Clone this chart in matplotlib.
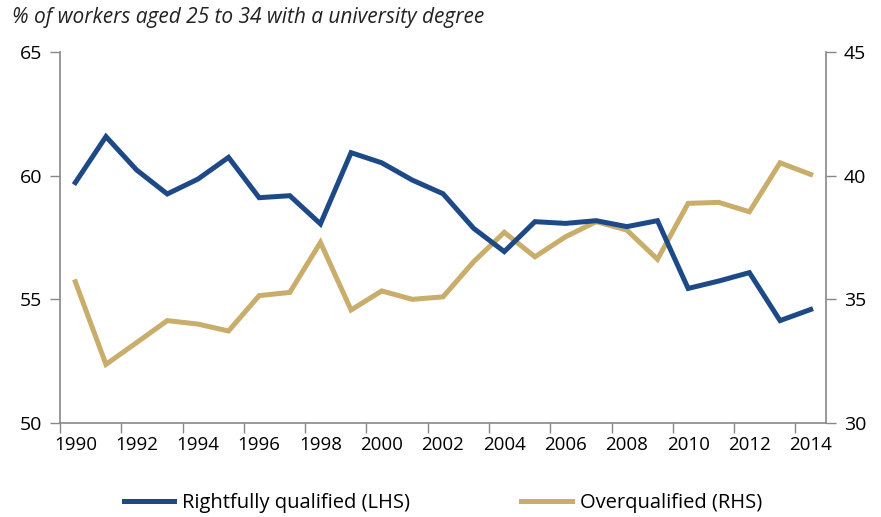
import matplotlib
matplotlib.use("Agg")
import matplotlib.pyplot as plt
import numpy as np

years = list(range(1990, 2015))
rightfully = [59.72, 61.58, 60.23, 59.26, 59.86, 60.74, 59.11, 59.19, 58.05, 60.93,
              60.52, 59.82, 59.27, 57.87, 56.93, 58.14, 58.07, 58.18, 57.94, 58.18,
              55.44, 55.74, 56.08, 54.14, 54.59]
overqualified = [35.71, 32.37, 33.25, 34.14, 34.00, 33.72, 35.15, 35.28, 37.30, 34.57,
                 35.34, 35.00, 35.10, 36.52, 37.71, 36.72, 37.53, 38.14, 37.80, 36.62,
                 38.88, 38.92, 38.54, 40.52, 40.05]
left_ticks = [50, 55, 60, 65]
right_ticks = [30, 35, 40, 45]
title = "% of workers aged 25 to 34 with a university degree"

BLUE = "#1D4A87"
GOLD = "#C8AD6B"
GREY = "#888888"
plt.rcParams['font.family'] = ['Open Sans', 'DejaVu Sans']

fig = plt.figure(figsize=(8.81, 5.17), dpi=100)
ax = fig.add_axes([60/881, 1-423/517, (826-60)/881, (423-52)/517])
ax2 = ax.twinx()

x = np.arange(len(years))
l1, = ax.plot(x, rightfully, color=BLUE, lw=3.6, solid_joinstyle='miter', label="Rightfully qualified (LHS)")
l2, = ax2.plot(x, overqualified, color=GOLD, lw=3.6, solid_joinstyle='miter', label="Overqualified (RHS)")
ax.set_zorder(ax2.get_zorder() + 1)
ax.patch.set_visible(False)

ax.set_xlim(-0.5, len(years) - 0.5)
ax.set_ylim(50, 65)
ax2.set_ylim(30, 45)
ax.set_yticks(left_ticks)
ax2.set_yticks(right_ticks)

ax.set_xticks(np.arange(-0.5, len(years), 2))
ax.set_xticklabels([])
ax.set_xticks(x[::2], minor=True)
ax.set_xticklabels([str(y) for y in years[::2]], minor=True)
ax.tick_params(axis='x', which='major', length=7, color=GREY, width=1, direction='out')
ax.tick_params(axis='x', which='minor', length=0, labelsize=13.5, pad=9)
ax.tick_params(axis='y', length=7, color=GREY, width=1, labelsize=14, pad=6)
ax2.tick_params(axis='y', length=7, color=GREY, width=1, labelsize=14, pad=6)

for a in (ax, ax2):
    for s in ['top']:
        a.spines[s].set_visible(False)
    for s in ['left', 'right', 'bottom']:
        a.spines[s].set_color(GREY)
        a.spines[s].set_linewidth(1.2)
ax.spines['right'].set_visible(False)
ax2.spines['left'].set_visible(False)
ax2.spines['bottom'].set_visible(False)

fig.text(12/881, 1-18/517, title, fontsize=15, style='italic', ha='left', va='center', color='#222222')

fig.legend(handles=[l1, l2], loc='center', bbox_to_anchor=(443/881, 1-503/517), ncol=2,
           frameon=False, fontsize=14.5, handlelength=2.5, columnspacing=5.5, handletextpad=0.4)

fig.savefig("out.png", dpi=100)
